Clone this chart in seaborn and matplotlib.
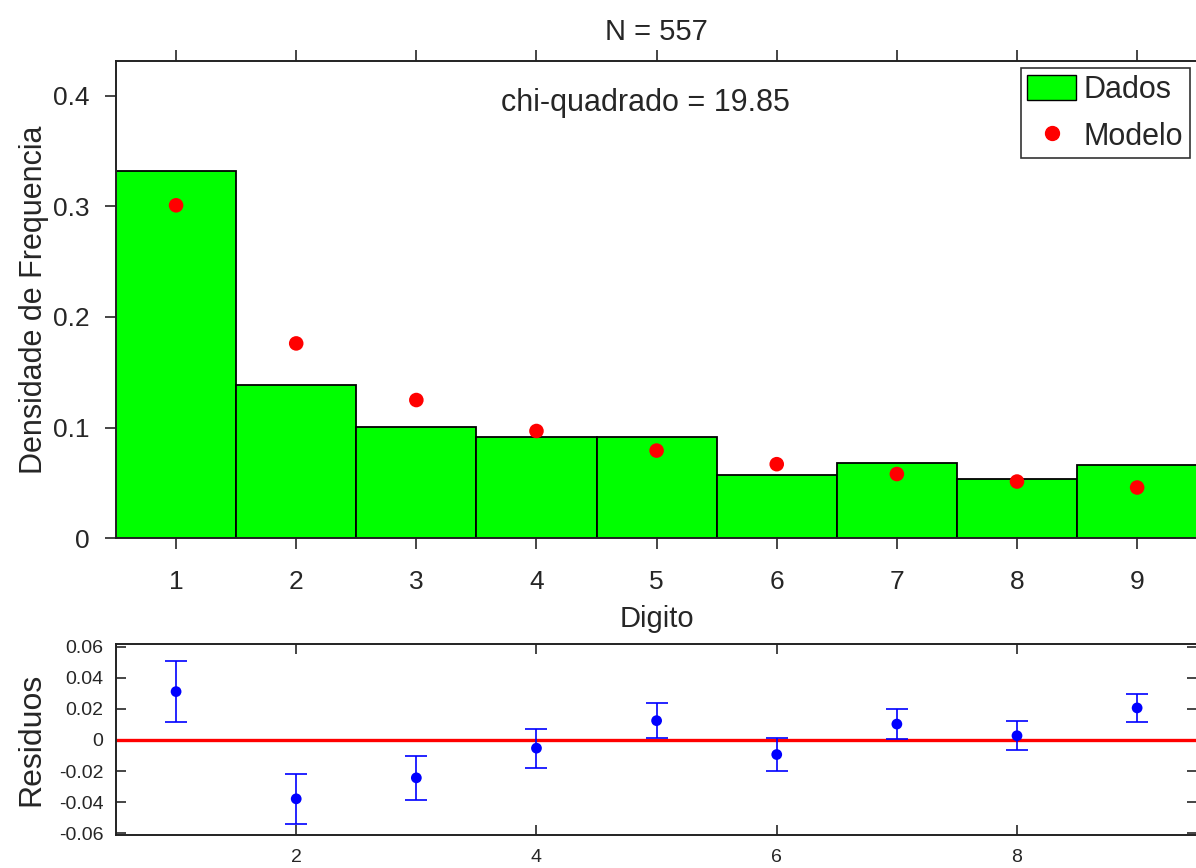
import numpy as np
import pandas as pd
import seaborn as sns
import matplotlib
matplotlib.use("Agg")
import matplotlib.pyplot as plt
from matplotlib.patches import Patch
from matplotlib.lines import Line2D

# First-digit frequencies of the sample (N = 557) and the reference model
digits = [1, 2, 3, 4, 5, 6, 7, 8, 9]
dados = [0.3321, 0.1382, 0.1005, 0.0916, 0.0916, 0.0575, 0.0682, 0.0539, 0.0664]
modelo = [0.3010, 0.1761, 0.1249, 0.0969, 0.0792, 0.0669, 0.0580, 0.0512, 0.0458]
residuos = [0.0311, -0.0379, -0.0244, -0.0053, 0.0124, -0.0094, 0.0102, 0.0027, 0.0206]
erros = [0.0194, 0.0161, 0.0140, 0.0126, 0.0114, 0.0106, 0.0099, 0.0093, 0.0089]
res_ticks = [-0.06, -0.04, -0.02, 0, 0.02, 0.04, 0.06]
res_labels = ["-0.06", "-0.04", "-0.02", "0", "0.02", "0.04", "0.06"]
freq_ticks = [0, 0.1, 0.2, 0.3, 0.4]
freq_labels = ["0", "0.1", "0.2", "0.3", "0.4"]

sns.set_style("ticks")
plt.rcParams["font.family"] = ["Liberation Sans", "DejaVu Sans"]

df = pd.DataFrame({"digito": digits, "dados": dados, "modelo": modelo,
                   "residuos": residuos, "erros": erros})

fig = plt.figure(figsize=(11.96, 8.68), dpi=100)
ax = fig.add_axes([0.097, 0.380, 0.904, 0.550])
axr = fig.add_axes([0.097, 0.038, 0.904, 0.220])

# Histogram of the data with the model on top
sns.barplot(data=df, x="digito", y="dados", native_scale=True, width=1,
            color="#00ff00", saturation=1, edgecolor="black", linewidth=1.3,
            errorbar=None, ax=ax)
sns.scatterplot(data=df, x="digito", y="modelo", color="red", s=110,
                edgecolor="none", ax=ax, zorder=5)
ax.set_xlim(0.5, 9.5)
ax.set_ylim(0, 0.4317)
ax.set_xticks(digits)
ax.set_xticklabels([str(d) for d in digits])
ax.set_yticks(freq_ticks)
ax.set_yticklabels(freq_labels)
ax.tick_params(axis="both", which="both", direction="out", length=8, width=1.2,
               labelsize=19, top=True, right=True)
ax.tick_params(axis="x", pad=15)
ax.tick_params(axis="y", pad=11)
ax.set_xlabel("Digito", fontsize=21, labelpad=8)
ax.set_ylabel("Densidade de Frequencia", fontsize=22, labelpad=3)
ax.set_title("N = 557", fontsize=21, pad=15)
for s in ax.spines.values():
    s.set_linewidth(1.4)
    s.set_color("#222222")
ax.text(0.49, 0.912, "chi-quadrado = 19.85", transform=ax.transAxes,
        ha="center", va="center", fontsize=22)
handles = [Patch(facecolor="#00ff00", edgecolor="black", linewidth=1.0),
           Line2D([], [], marker="o", color="red", linestyle="none", markersize=10)]
leg = ax.legend(handles, ["Dados", "Modelo"], loc="upper right", fontsize=22,
                frameon=True, fancybox=False, edgecolor="black",
                borderaxespad=0.25, handlelength=1.6, handleheight=0.9,
                handletextpad=0.25, borderpad=0.2, labelspacing=0.55)
leg.get_frame().set_linewidth(1.2)

# Residuals with their uncertainties
axr.axhline(0, color="red", linewidth=2.4, zorder=1)
axr.errorbar(df["digito"], df["residuos"], yerr=df["erros"], fmt="none",
             ecolor="blue", elinewidth=1.2, capsize=8, capthick=1.2, zorder=2)
sns.scatterplot(data=df, x="digito", y="residuos", color="blue", s=60,
                edgecolor="none", ax=axr, zorder=3)
axr.set_xlim(0.5, 9.5)
axr.set_ylim(-0.0612, 0.0617)
axr.set_xticks([2, 4, 6, 8])
axr.set_xticklabels(["2", "4", "6", "8"])
axr.set_yticks(res_ticks)
axr.set_yticklabels(res_labels)
axr.tick_params(axis="both", which="both", direction="in", length=7, width=1.2,
                labelsize=14, top=True, right=True)
axr.tick_params(axis="x", pad=10)
axr.tick_params(axis="y", pad=9)
axr.set_xlabel("")
axr.set_ylabel("Residuos", fontsize=23, labelpad=9)
for s in axr.spines.values():
    s.set_linewidth(1.4)
    s.set_color("#222222")

fig.savefig("out.png", dpi=100)
